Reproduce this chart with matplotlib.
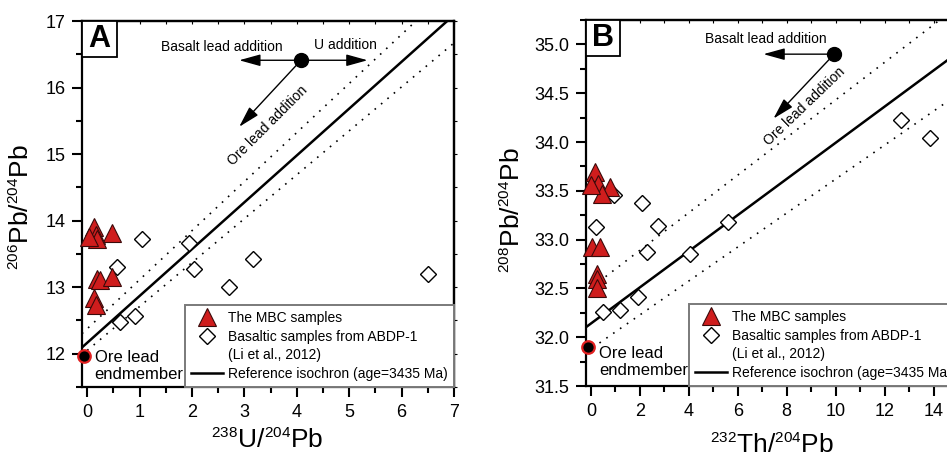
import numpy as np
import matplotlib
matplotlib.use("Agg")
import matplotlib.pyplot as plt
from matplotlib.lines import Line2D
from matplotlib.patches import Rectangle
from matplotlib.ticker import MultipleLocator, FormatStrFormatter

try:
    import matplotlib._mathtext as _mt
    _mt.SHRINK_FACTOR = 0.58
except Exception:
    pass

plt.rcParams['font.family'] = ['Liberation Sans', 'DejaVu Sans']
plt.rcParams['mathtext.fontset'] = 'custom'
plt.rcParams['mathtext.rm'] = 'Liberation Sans'
plt.rcParams['mathtext.it'] = 'Liberation Sans'

# ---------------- Panel A data (238U/204Pb vs 206Pb/204Pb) ----------------
mbc_u = [0.13, 0.48, 0.16, 0.19, 0.04, 0.19, 0.25, 0.48, 0.13, 0.16]
mbc_206 = [13.91, 13.81, 13.78, 13.73, 13.76, 13.13, 13.11, 13.16, 12.83, 12.73]
abdp_u = [0.57, 1.04, 1.94, 2.03, 2.70, 3.17, 6.50, 0.62, 0.92]
abdp_206 = [13.31, 13.72, 13.67, 13.27, 13.01, 13.42, 13.20, 12.48, 12.57]
ore_u, ore_206 = -0.07, 11.97
iso_a_int, iso_a_slope = 12.165, 0.7037
dot_a_up_int, dot_a_up_slope = 12.376, 0.737
dot_a_lo_int, dot_a_lo_slope = 12.05, 0.66

# ---------------- Panel B data (232Th/204Pb vs 208Pb/204Pb) ----------------
mbc_th = [0.18, 0.31, 0.79, 0.45, 0.02, 0.04, 0.38, 0.25, 0.25, 0.25]
mbc_208 = [33.69, 33.57, 33.54, 33.47, 33.56, 32.92, 32.92, 32.65, 32.60, 32.50]
abdp_th = [0.93, 0.22, 2.08, 2.76, 2.29, 4.06, 5.60, 1.92, 1.20, 0.49, 12.67, 13.84]
abdp_208 = [33.46, 33.13, 33.37, 33.14, 32.87, 32.85, 33.18, 32.41, 32.28, 32.26, 34.23, 34.04]
ore_th, ore_208 = -0.10, 31.90
iso_b_int, iso_b_slope = 32.14, 0.1852
dot_b_up_int, dot_b_up_slope = 32.505, 0.1926
dot_b_lo_int, dot_b_lo_slope = 31.88, 0.174

legend_labels = ["The MBC samples", "Basaltic samples from ABDP-1",
                 "(Li et al., 2012)", "Reference isochron (age=3435 Ma)"]

RED = '#cf1d1d'

fig = plt.figure(figsize=(9.47, 4.58), dpi=100)
fig.patch.set_facecolor('white')
W, H = 947.0, 458.0
axA = fig.add_axes([82 / W, 1 - 387 / H, 372 / W, 366 / H])
axB = fig.add_axes([586 / W, 1 - 386 / H, 372 / W, 366 / H])


def style_axes(ax, xmaj, xmin, ymaj, ymin):
    for s in ax.spines.values():
        s.set_linewidth(1.6)
    ax.xaxis.set_major_locator(MultipleLocator(xmaj))
    ax.xaxis.set_minor_locator(MultipleLocator(xmin))
    ax.yaxis.set_major_locator(MultipleLocator(ymaj))
    ax.yaxis.set_minor_locator(MultipleLocator(ymin))
    ax.tick_params(which='major', direction='out', length=7, width=1.5,
                   labelsize=13, pad=5)
    ax.tick_params(which='minor', direction='out', length=4.5, width=1.5)
    ax.tick_params(top=False, right=False)
    secx = ax.secondary_xaxis('top')
    secx.xaxis.set_major_locator(MultipleLocator(xmin))
    secx.tick_params(direction='in', length=2.5, width=0.8, labeltop=False)
    secx.spines['top'].set_linewidth(1.6)
    secy = ax.secondary_yaxis('right')
    secy.yaxis.set_major_locator(MultipleLocator(ymin))
    secy.tick_params(direction='out', length=2.5, width=0.8, labelright=False)
    secy.spines['right'].set_linewidth(1.6)


def panel_box(ax, letter, wfrac, hfrac):
    ax.add_patch(Rectangle((0, 1 - hfrac), wfrac, hfrac, transform=ax.transAxes,
                           facecolor='white', edgecolor='black', lw=1.3, zorder=6,
                           clip_on=False))
    ax.text(wfrac / 2, 1 - hfrac / 2, letter, transform=ax.transAxes,
            ha='center', va='center', fontsize=22, fontweight='bold', zorder=7)


def make_legend(ax):
    handles = [
        Line2D([], [], ls='', marker='^', ms=13, mfc=RED, mec='#3a0a0a', mew=0.8),
        Line2D([], [], ls='', marker='D', ms=8.5, mfc='white', mec='black', mew=1.0),
        Line2D([], [], ls='', marker=None, alpha=0),
        Line2D([], [], color='black', lw=1.8),
    ]
    leg = ax.legend(handles, legend_labels, loc='lower right', bbox_to_anchor=(1.0, 0.0),
                    fontsize=10, frameon=True, fancybox=False, borderaxespad=0,
                    handlelength=2.3, handletextpad=0.35, labelspacing=0.33,
                    borderpad=0.45)
    fr = leg.get_frame()
    fr.set_edgecolor('#7a7a7a')
    fr.set_linewidth(1.4)
    fr.set_alpha(1)
    leg.set_zorder(8)
    return leg


def arrow(ax, start, end):
    ax.annotate('', xy=end, xytext=start,
                arrowprops=dict(arrowstyle='-|>,head_length=1.3,head_width=0.36',
                                lw=1.0, color='black', shrinkA=0, shrinkB=0,
                                mutation_scale=10), zorder=5)


# ================= Panel A =================
ax = axA
x0, x1 = -0.1, 7.0
y0, y1 = 11.5, 17.0
ax.set_xlim(x0, x1)
ax.set_ylim(y0, y1)
style_axes(ax, 1, 0.5, 1, 0.5)

xs = np.array([x0, (y1 - iso_a_int) / iso_a_slope])
ax.plot(xs, iso_a_int + iso_a_slope * xs, color='black', lw=1.8, zorder=2)
xs = np.array([x0, (y1 - dot_a_up_int) / dot_a_up_slope])
ax.plot(xs, dot_a_up_int + dot_a_up_slope * xs, color='black', lw=1.2,
        ls=(0, (1, 4)), zorder=2)
xs = np.array([0.0, x1])
ax.plot(xs, dot_a_lo_int + dot_a_lo_slope * xs, color='black', lw=1.2,
        ls=(0, (1, 4)), zorder=2)

ax.plot(abdp_u, abdp_206, ls='', marker='D', ms=8.5, mfc='white', mec='black',
        mew=1.0, zorder=3, clip_on=False)
ax.plot(mbc_u, mbc_206, ls='', marker='^', ms=13, mfc=RED, mec='#3a0a0a',
        mew=0.8, zorder=4, clip_on=False)
ax.plot([ore_u], [ore_206], ls='', marker='o', ms=9, mfc='black', mec='#e02020',
        mew=1.6, zorder=9, clip_on=False)
ax.text(0.14, 11.815, "Ore lead\nendmember", fontsize=12, ha='left', va='center',
        linespacing=1.15, zorder=9)

# arrows
cA = (4.08, 16.41)
arrow(ax, cA, (2.90, 16.41))
arrow(ax, cA, (5.35, 16.41))
arrow(ax, cA, (2.90, 15.41))
ax.plot([cA[0]], [cA[1]], ls='', marker='o', ms=10, color='black', zorder=6)
ax.text(2.56, 16.61, "Basalt lead addition", fontsize=10, ha='center', va='center')
ax.text(4.93, 16.635, "U addition", fontsize=10, ha='center', va='center')
ax.text(3.44, 15.43, "Ore lead addition", fontsize=10, ha='center', va='center',
        rotation=45, rotation_mode='anchor')

make_legend(ax)
panel_box(ax, 'A', 35 / 372, 36 / 366)
ax.set_xlabel(r'$^{238}$U/$^{204}$Pb', fontsize=19)
ax.set_ylabel(r'$^{206}$Pb/$^{204}$Pb', fontsize=19)
ax.xaxis.set_label_coords(0.497, -0.115)
ax.yaxis.set_label_coords(-0.13, 0.49)

# ================= Panel B =================
ax = axB
x0, x1 = -0.2, 15.0
y0, y1 = 31.5, 35.25
ax.set_xlim(x0, x1)
ax.set_ylim(y0, y1)
style_axes(ax, 2, 1, 0.5, 0.25)
ax.yaxis.set_major_formatter(FormatStrFormatter('%.1f'))

xs = np.array([x0, x1])
ax.plot(xs, iso_b_int + iso_b_slope * xs, color='black', lw=1.8, zorder=2)
xs = np.array([0.6, (y1 - dot_b_up_int) / dot_b_up_slope])
ax.plot(xs, dot_b_up_int + dot_b_up_slope * xs, color='black', lw=1.2,
        ls=(0, (1, 4)), zorder=2)
xs = np.array([0.35, x1])
ax.plot(xs, dot_b_lo_int + dot_b_lo_slope * xs, color='black', lw=1.2,
        ls=(0, (1, 4)), zorder=2)

ax.plot(abdp_th, abdp_208, ls='', marker='D', ms=8.5, mfc='white', mec='black',
        mew=1.0, zorder=3, clip_on=False)
ax.plot(mbc_th, mbc_208, ls='', marker='^', ms=13, mfc=RED, mec='#3a0a0a',
        mew=0.8, zorder=4, clip_on=False)
ax.plot([ore_th], [ore_208], ls='', marker='o', ms=9, mfc='black', mec='#e02020',
        mew=1.6, zorder=9, clip_on=False)
ax.text(0.35, 31.745, "Ore lead\nendmember", fontsize=12, ha='left', va='center',
        linespacing=1.15, zorder=9)

cB = (9.94, 34.90)
arrow(ax, cB, (7.05, 34.90))
arrow(ax, cB, (7.46, 34.24))
ax.plot([cB[0]], [cB[1]], ls='', marker='o', ms=10, color='black', zorder=6)
ax.text(7.15, 35.054, "Basalt lead addition", fontsize=10, ha='center', va='center')
ax.text(8.72, 34.37, "Ore lead addition", fontsize=10, ha='center', va='center',
        rotation=43.8, rotation_mode='anchor')

make_legend(ax)
panel_box(ax, 'B', 34 / 372, 36 / 366)
ax.set_xlabel(r'$^{232}$Th/$^{204}$Pb', fontsize=19)
ax.set_ylabel(r'$^{208}$Pb/$^{204}$Pb', fontsize=19)
ax.xaxis.set_label_coords(0.499, -0.13)
ax.yaxis.set_label_coords(-0.165, 0.48)

fig.savefig('out.png', dpi=100, facecolor='white')
